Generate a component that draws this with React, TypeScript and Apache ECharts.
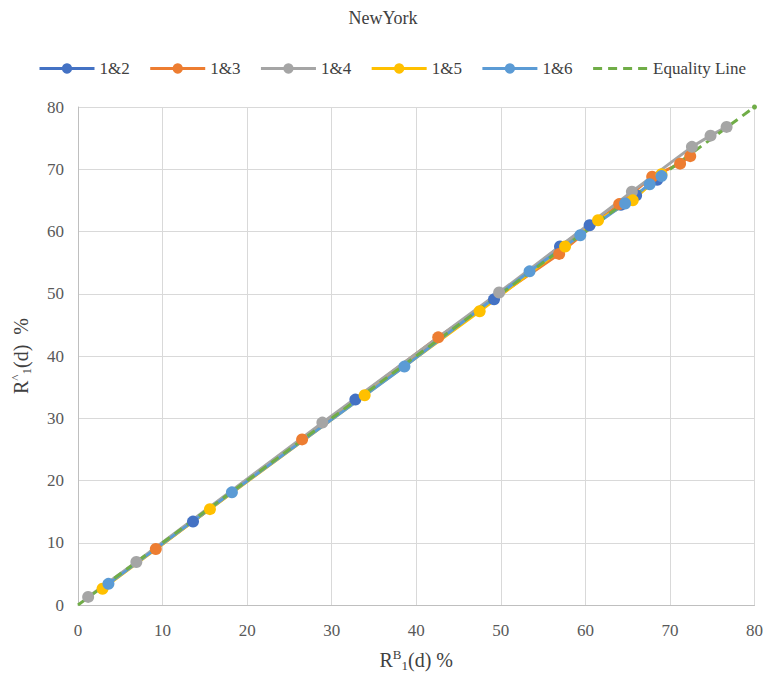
import React, { useEffect, useRef } from "react";
import * as echarts from "echarts";

// Paired retention values R^B1(d) (x) vs R^1(d) (y), in percent
const pair12: [number, number][] = [
  [13.6, 13.4], [32.8, 33.0], [49.2, 49.1], [57.0, 57.6], [60.5, 61.0],
  [64.2, 64.3], [66.0, 65.8], [68.5, 68.3],
];
const pair13: [number, number][] = [
  [9.2, 9.0], [26.5, 26.6], [42.6, 43.0], [56.9, 56.4], [64.0, 64.4],
  [67.9, 68.8], [71.2, 70.9], [72.4, 72.1],
];
const pair14: [number, number][] = [
  [1.2, 1.3], [6.9, 6.9], [28.9, 29.3], [49.8, 50.2], [65.5, 66.4],
  [72.6, 73.6], [74.8, 75.4], [76.7, 76.8],
];
const pair15: [number, number][] = [
  [2.9, 2.6], [15.6, 15.4], [33.9, 33.7], [47.5, 47.2], [57.6, 57.6],
  [61.5, 61.8], [65.6, 65.0], [69.0, 69.2],
];
const pair16: [number, number][] = [
  [3.6, 3.4], [18.2, 18.1], [38.6, 38.3], [53.4, 53.6], [59.4, 59.4],
  [64.7, 64.5], [67.6, 67.6], [69.0, 68.9],
];
const equality: [number, number][] = [[0, 0], [80, 80]];

const seriesNames = ["1&2", "1&3", "1&4", "1&5", "1&6"];
const seriesData = [pair12, pair13, pair14, pair15, pair16];
const seriesColors = ["#4472C4", "#ED7D31", "#A5A5A5", "#FFC000", "#5B9BD5"];
const equalityName = "Equality Line";
const equalityColor = "#70AD47";

const FONT = "Times New Roman";

export default function App() {
  const ref = useRef<HTMLDivElement>(null);

  useEffect(() => {
    if (!ref.current) return;
    const chart = echarts.init(ref.current, undefined, { renderer: "svg" });

    const pairSeries = seriesNames.map((name, i) => ({
      name,
      type: "line",
      data: seriesData[i],
      symbol: "circle",
      symbolSize: 12,
      color: seriesColors[i],
      lineStyle: { width: 3, color: seriesColors[i] },
      itemStyle: { color: seriesColors[i] },
    }));

    const axisCommon = {
      type: "value",
      min: 0,
      max: 80,
      interval: 10,
      axisLine: { show: true, lineStyle: { color: "#bfbfbf", width: 1 } },
      axisTick: { show: false },
      splitLine: { show: true, lineStyle: { color: "#d9d9d9", width: 1 } },
      axisLabel: { fontFamily: FONT, fontSize: 17, color: "#595959" },
      nameLocation: "middle",
      nameTextStyle: {
        fontFamily: FONT,
        fontSize: 20,
        color: "#404040",
        rich: {
          b: { fontFamily: FONT, fontSize: 20, lineHeight: 24, color: "#404040" },
          sup: {
            fontFamily: FONT,
            fontSize: 13,
            lineHeight: 13,
            verticalAlign: "top",
            color: "#404040",
          },
          sub: {
            fontFamily: FONT,
            fontSize: 13,
            lineHeight: 12,
            verticalAlign: "bottom",
            color: "#404040",
          },
        },
      },
    };

    chart.setOption({
      animation: false,
      backgroundColor: "#ffffff",
      title: {
        text: "NewYork",
        left: "center",
        top: 4,
        textStyle: {
          fontFamily: FONT,
          fontSize: 18,
          fontWeight: "normal",
          color: "#404040",
        },
      },
      legend: {
        left: 33,
        top: 55,
        width: 733,
        itemWidth: 55,
        itemHeight: 13,
        itemGap: 19,
        lineStyle: { width: 3 },
        data: [
          ...seriesNames,
          { name: equalityName, itemStyle: { color: "transparent", borderWidth: 0 } },
        ],
        textStyle: { fontFamily: FONT, fontSize: 17, color: "#404040" },
      },
      grid: { left: 78, right: 8, top: 107, bottom: 70, containLabel: false },
      xAxis: {
        ...axisCommon,
        name: "{b|R}{sup|B}{sub|1}{b|(d) %}",
        nameGap: 43,
        axisLabel: { ...axisCommon.axisLabel, margin: 17 },
      },
      yAxis: {
        ...axisCommon,
        name: "{b|R}{sup|^}{sub|1}{b|(d)  %}",
        nameGap: 45,
        axisLabel: { ...axisCommon.axisLabel, margin: 14 },
      },
      series: [
        ...pairSeries,
        {
          name: equalityName,
          type: "line",
          data: equality,
          symbol: "none",
          color: equalityColor,
          lineStyle: { width: 3, type: [9, 6], color: equalityColor },
          markPoint: {
            symbol: "circle",
            symbolSize: 5,
            label: { show: false },
            itemStyle: { color: equalityColor },
            data: [{ coord: equality[1] }],
          },
        },
      ],
    });

    return () => chart.dispose();
  }, []);

  return (
    <div
      ref={ref}
      style={{ position: "fixed", left: 0, top: 0, width: 766, height: 677 }}
    />
  );
}
